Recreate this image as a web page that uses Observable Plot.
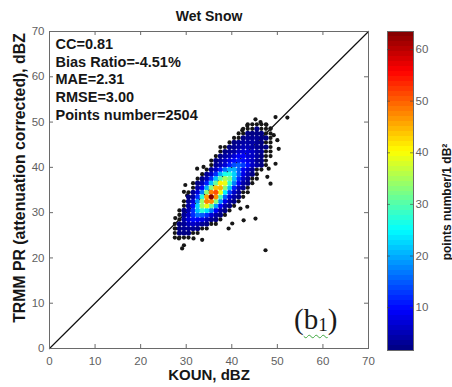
<!DOCTYPE html>
<html>
<head>
<meta charset="utf-8">
<script src="https://cdn.jsdelivr.net/npm/d3@7"></script>
<script src="https://cdn.jsdelivr.net/npm/@observablehq/plot@0.6"></script>
<style>
  body { margin: 0; background: #fff; }
  #chart { position: relative; width: 452px; height: 387px; overflow: hidden; background: #fff; }
  #chart svg { position: absolute; left: 0; top: 0; }
  #panel { position: absolute; left: 294px; top: 305px; font: 29px "Liberation Serif", "Times New Roman", serif; color: #1a1a1a; line-height: 1; }
  #panel .sq { text-decoration: underline wavy #3fa73f; text-decoration-thickness: 1px; text-underline-offset: 5px; }
  #panel sub { font-size: 0.66em; vertical-align: -0.12em; }
</style>
</head>
<body>
<div id="chart"><div id="panel">(<span class="sq">b<sub>1</sub></span>)</div></div>
<script>
// Axis ticks (dBZ) and colour-bar ticks (points per 1 dB x 1 dB bin)
const kounTicks = [0, 10, 20, 30, 40, 50, 60, 70];
const prTicks = [0, 10, 20, 30, 40, 50, 60, 70];
const colorTicks = [10, 20, 30, 40, 50, 60];
const colorDomain = [1.7, 63.5];

// Density grid: one row per 1-dB PR bin, counts for consecutive 1-dB KOUN bins
const prBins = [24, 25, 26, 27, 28, 29, 30, 31, 32, 33, 34, 35, 36, 37, 38, 39, 40, 41, 42, 43, 44, 45, 46, 47, 48, 49];
const kounStart = [27, 27, 27, 27, 28, 28, 28, 29, 29, 30, 30, 31, 31, 32, 33, 34, 35, 35, 36, 37, 38, 39, 40, 41, 42, 43];
const binCounts = [
  [1, 1, 1, 1],
  [1, 2, 2, 2, 1, 1],
  [1, 2, 3, 3, 3, 2, 1, 1],
  [1, 2, 3, 5, 6, 5, 3, 2, 1, 1],
  [1, 4, 7, 10, 9, 8, 5, 3, 2, 1],
  [1, 3, 6, 12, 16, 15, 12, 7, 4, 2, 1],
  [1, 2, 5, 12, 21, 27, 23, 17, 9, 4, 2, 1],
  [1, 4, 10, 22, 35, 39, 31, 19, 9, 4, 2, 1],
  [1, 3, 7, 18, 34, 48, 47, 33, 18, 8, 4, 2, 1],
  [2, 4, 12, 27, 46, 64, 47, 29, 15, 7, 4, 2, 1],
  [1, 3, 7, 17, 33, 48, 51, 39, 24, 13, 6, 3, 1, 1],
  [1, 4, 9, 20, 33, 44, 45, 33, 21, 11, 5, 3, 1],
  [1, 2, 5, 11, 21, 31, 41, 39, 27, 17, 9, 4, 2, 1],
  [1, 2, 5, 12, 21, 30, 35, 32, 21, 12, 6, 3, 1, 1],
  [1, 3, 6, 12, 20, 26, 27, 22, 15, 8, 5, 2, 1],
  [1, 3, 6, 11, 16, 20, 20, 15, 9, 6, 3, 1, 1],
  [1, 3, 5, 7, 11, 14, 15, 13, 10, 6, 4, 2, 1],
  [1, 2, 4, 6, 8, 10, 11, 10, 8, 6, 3, 2, 1],
  [1, 2, 4, 5, 7, 9, 9, 7, 6, 4, 2, 1, 1],
  [1, 2, 3, 4, 6, 7, 7, 6, 4, 3, 1, 1],
  [1, 2, 3, 4, 5, 5, 4, 3, 2, 2, 1],
  [1, 2, 3, 4, 4, 4, 3, 2, 1, 1],
  [1, 1, 2, 3, 3, 3, 2, 2, 1],
  [1, 1, 2, 2, 2, 2, 1, 1],
  [1, 1, 1, 2, 1, 1, 1],
  [1, 1, 1, 1, 1]
];

// Isolated pairs away from the dense core (KOUN, PR in dBZ)
const sparseKoun = [47.4, 29.5, 29.1, 28.4, 27.6, 41.9, 43.4, 45.2, 42.6, 47.8, 48.5, 48.1, 49.6, 50.3, 50.0, 49.2, 48.5, 37.5, 33.8, 32.4, 29.8, 29.5, 30.2, 46.3, 45.2, 47.6, 42.3, 43.4, 49.6, 52.2, 39.3, 40.1, 31.6, 33.5, 27.6];
const sparsePr   = [21.7, 22.8, 22.1, 24.3, 26.5, 30.9, 31.3, 28.7, 28.3, 37.9, 36.4, 39.7, 40.8, 44.1, 46.0, 47.1, 48.6, 44.5, 40.1, 39.7, 36.1, 34.6, 33.8, 50.0, 50.6, 49.4, 48.2, 49.2, 51.1, 51.0, 26.5, 27.6, 24.3, 24.0, 28.8];

// Verification statistics
const statNames = ["CC", "Bias Ratio", "MAE", "RMSE"];
const statValues = ["0.81", "-4.51%", "2.31", "3.00"];

// MATLAB-style jet colour map
const jet = t => {
  const c = v => Math.round(255 * Math.max(0, Math.min(1, v)));
  return `rgb(${c(1.5 - Math.abs(4 * t - 3))},${c(1.5 - Math.abs(4 * t - 2))},${c(1.5 - Math.abs(4 * t - 1))})`;
};

const cells = [];
prBins.forEach((p, i) => binCounts[i].forEach((n, j) => cells.push({koun: kounStart[i] + j + 0.5, pr: p + 0.5, n})));
cells.sort((a, b) => a.n - b.n);
const sparse = sparseKoun.map((k, i) => ({koun: k, pr: sparsePr[i], n: 1}));
const singles = sparse.concat(cells.filter(d => d.n === 1));
const dense = cells.filter(d => d.n > 1);
const total = d3.sum(cells, d => d.n) + sparse.length;

const statText = statNames.map((s, i) => `${s}=${statValues[i]}`).concat([`Points number=${total}`]).join("\n");
const extent = d3.extent(kounTicks);
const diagonal = [{koun: extent[0], pr: extent[0]}, {koun: extent[1], pr: extent[1]}];

const W = 452, H = 387;
const M = {top: 31, right: 84, bottom: 39, left: 49};
const innerW = W - M.left - M.right, innerH = H - M.top - M.bottom;
const tick = 4;
const axisGray = "#6a6a6a";
const labelGray = "#5f5f5f";
const ink = "#161616";
const font = "'Liberation Sans', Arial, sans-serif";

const main = Plot.plot({
  width: W, height: H,
  marginTop: M.top, marginRight: M.right, marginBottom: M.bottom, marginLeft: M.left,
  style: {background: "transparent", fontFamily: font, fontSize: "11.5px", color: labelGray, overflow: "visible"},
  x: {domain: extent, axis: null},
  y: {domain: d3.extent(prTicks), axis: null},
  color: {type: "linear", domain: colorDomain, interpolate: jet, clamp: true},
  marks: [
    Plot.line(diagonal, {x: "koun", y: "pr", stroke: "#111", strokeWidth: 1.2}),
    Plot.dot(singles, {x: "koun", y: "pr", r: 2.1, fill: ink}),
    Plot.dot(dense, {x: "koun", y: "pr", r: 2.6, fill: "n"}),
    Plot.frame({stroke: axisGray}),
    // inward ticks on all four sides
    Plot.ruleX(kounTicks, {x: d => d, insetTop: innerH - tick, stroke: axisGray}),
    Plot.ruleX(kounTicks, {x: d => d, insetBottom: innerH - tick, stroke: axisGray}),
    Plot.ruleY(prTicks, {y: d => d, insetRight: innerW - tick, stroke: axisGray}),
    Plot.ruleY(prTicks, {y: d => d, insetLeft: innerW - tick, stroke: axisGray}),
    // tick labels
    Plot.text(kounTicks, {x: d => d, frameAnchor: "bottom", lineAnchor: "top", dy: 8, text: d => String(d), fill: labelGray, fontSize: 11.5}),
    Plot.text(prTicks, {y: d => d, frameAnchor: "left", textAnchor: "end", dx: -5, text: d => String(d), fill: labelGray, fontSize: 11.5}),
    Plot.text([statText], {frameAnchor: "top-left", textAnchor: "start", lineAnchor: "top", dx: 6, dy: 5, lineHeight: 1.22, fontSize: 14.5, fontWeight: "bold", fill: ink}),
    Plot.text(["Wet Snow"], {frameAnchor: "top", textAnchor: "middle", lineAnchor: "bottom", dy: -11, fontSize: 14, fontWeight: "bold", fill: ink}),
    Plot.text(["KOUN, dBZ"], {frameAnchor: "bottom", textAnchor: "middle", lineAnchor: "bottom", dy: 31, fontSize: 15, fontWeight: "bold", fill: ink}),
    Plot.text(["TRMM PR (attenuation corrected), dBZ"], {frameAnchor: "left", textAnchor: "middle", rotate: -90, lineAnchor: "top", dx: -36, dy: -12, fontSize: 15.8, fontWeight: "bold", fill: ink})
  ]
});

// Colour bar sharing the density colour scale
const CB = {top: 31, right: 39, bottom: 37, left: 387};
const cbW = W - CB.left - CB.right;
const nBands = 64;
const bands = d3.range(nBands).map(i => ({
  lo: colorDomain[0] + i * (colorDomain[1] - colorDomain[0]) / nBands,
  hi: colorDomain[0] + (i + 1) * (colorDomain[1] - colorDomain[0]) / nBands
}));
const bar = Plot.plot({
  width: W, height: H,
  marginTop: CB.top, marginRight: CB.right, marginBottom: CB.bottom, marginLeft: CB.left,
  style: {background: "transparent", fontFamily: font, fontSize: "11.5px", color: labelGray, overflow: "visible"},
  x: {domain: [0, 1], axis: null},
  y: {domain: colorDomain, axis: null},
  color: {type: "linear", domain: colorDomain, interpolate: jet, clamp: true},
  marks: [
    Plot.rect(bands, {x1: 0, x2: 1, y1: "lo", y2: "hi", fill: d => (d.lo + d.hi) / 2, shapeRendering: "crispEdges"}),
    Plot.frame({stroke: axisGray}),
    Plot.ruleY(colorTicks, {y: d => d, insetRight: cbW - 3, stroke: "#444", strokeOpacity: 0.6}),
    Plot.ruleY(colorTicks, {y: d => d, insetLeft: cbW - 3, stroke: "#444", strokeOpacity: 0.6}),
    Plot.text(colorTicks, {y: d => d, frameAnchor: "right", textAnchor: "start", dx: 2, text: d => String(d), fill: labelGray, fontSize: 11.5}),
    Plot.text(["points number/1 dB²"], {frameAnchor: "right", textAnchor: "middle", rotate: -90, lineAnchor: "bottom", dx: 37, dy: 11, fontSize: 12, fontWeight: "bold", fill: ink})
  ]
});

const chart = document.getElementById("chart");
chart.prepend(bar);
chart.prepend(main);
</script>
</body>
</html>
